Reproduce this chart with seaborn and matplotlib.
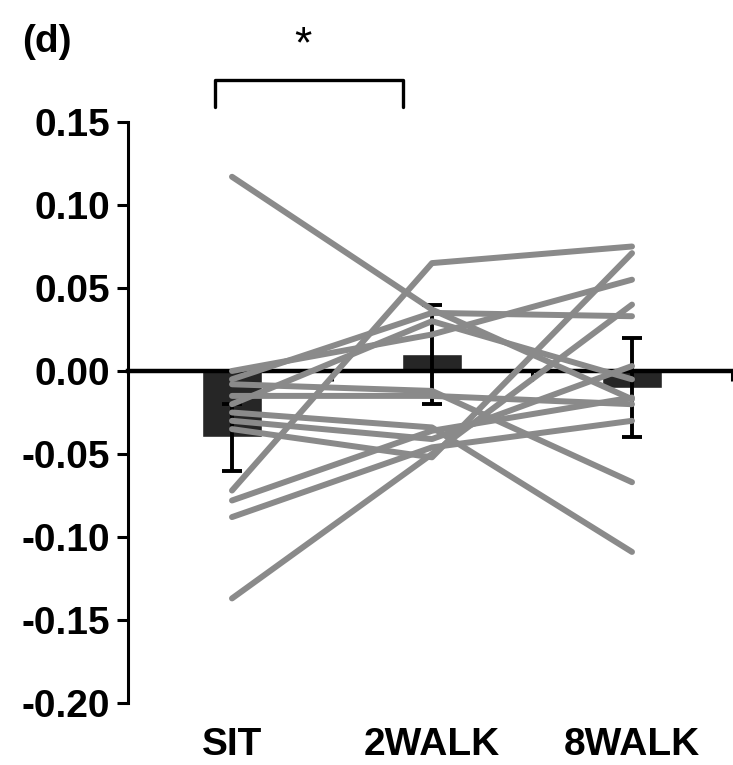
import matplotlib
matplotlib.use("Agg")
import matplotlib.pyplot as plt
import matplotlib.transforms as mtransforms
import seaborn as sns
import numpy as np
import pandas as pd

# ---- data ----
conditions = ["SIT", "2WALK", "8WALK"]
bar_means = [-0.04, 0.01, -0.01]
bar_err = [0.02, 0.03, 0.03]

subj_sit = [0.117, -0.072, -0.137, 0.000, -0.005, -0.025, -0.008,
            -0.088, -0.078, -0.030, -0.015, -0.020, -0.035]
subj_2walk = [0.037, 0.065, -0.050, 0.022, 0.035, -0.034, -0.012,
              -0.046, -0.036, -0.041, -0.015, 0.030, -0.052]
subj_8walk = [-0.017, 0.075, 0.040, 0.055, 0.033, -0.109, -0.067,
              -0.030, -0.016, 0.003, -0.020, -0.005, 0.071]

yticks = [0.15, 0.10, 0.05, 0.00, -0.05, -0.10, -0.15, -0.20]
ytick_labels = ["0.15", "0.10", "0.05", "0.00", "-0.05", "-0.10", "-0.15", "-0.20"]

# ---- build tables ----
bars_df = pd.DataFrame({"pos": range(len(conditions)), "cond": conditions, "mean": bar_means})
rows = []
for i, (a, b, c) in enumerate(zip(subj_sit, subj_2walk, subj_8walk)):
    for p, v in enumerate([a, b, c]):
        rows.append({"subject": i, "pos": p, "value": v})
subj_df = pd.DataFrame(rows)

sns.set_style("white")
plt.rcParams["font.family"] = ["Liberation Sans", "DejaVu Sans"]
plt.rcParams["text.color"] = "black"
plt.rcParams["ytick.color"] = "black"
plt.rcParams["xtick.color"] = "black"
plt.rcParams["axes.edgecolor"] = "black"

FS = 28

fig = plt.figure(figsize=(7.33, 7.65), dpi=100)
ax = fig.add_axes([128 / 733, 1 - 703 / 765, 604 / 733, (703 - 122) / 765])

# bars
ax.bar(bars_df["pos"], bars_df["mean"], width=0.3, color="#262626", zorder=2)
ax.errorbar(bars_df["pos"], bars_df["mean"], yerr=bar_err, fmt="none",
            ecolor="black", elinewidth=2.8, capsize=7, capthick=2.8, zorder=3)

# subject lines
sns.lineplot(data=subj_df, x="pos", y="value", units="subject", estimator=None,
             color="#8a8a8a", linewidth=4.3, ax=ax, zorder=4, legend=False)

ax.set_xlim(-0.52, 2.5)
ax.set_ylim(-0.20, 0.15)
ax.set_xlabel("")
ax.set_ylabel("")

ax.set_yticks(yticks)
ax.set_yticklabels(ytick_labels, fontsize=FS, fontweight="bold")
ax.tick_params(axis="y", direction="out", length=8, width=2.2, pad=5, left=True)

# x-axis line at zero
for s in ["top", "right"]:
    ax.spines[s].set_visible(False)
ax.spines["bottom"].set_position(("data", 0))
ax.spines["bottom"].set_linewidth(3.2)
ax.spines["bottom"].set_zorder(2.5)
ax.spines["left"].set_linewidth(2.2)
ax.set_xticks([0.5, 1.5, 2.5])
ax.set_xticklabels(["", "", ""])
ax.tick_params(axis="x", direction="out", length=7, width=2.2, bottom=True)

# category labels at the bottom
trans = mtransforms.blended_transform_factory(ax.transData, fig.transFigure)
for i, c in enumerate(conditions):
    ax.text(i, 1 - 745 / 765, c, transform=trans, ha="center", va="center",
            fontsize=FS, fontweight="bold")

# significance bracket
bx0, bx1, btop, bleg = -0.085, 0.855, 0.175, 0.159
ax.plot([bx0, bx0, bx1, bx1], [bleg, btop, btop, bleg], color="black",
        linewidth=2.4, clip_on=False)
ax.text(0.355, 0.196, "*", ha="center", va="center", fontsize=32, clip_on=False)

fig.text(22 / 733, 1 - 42 / 765, "(d)", ha="left", va="center",
         fontsize=FS, fontweight="bold")

fig.savefig("out.png", dpi=100)
